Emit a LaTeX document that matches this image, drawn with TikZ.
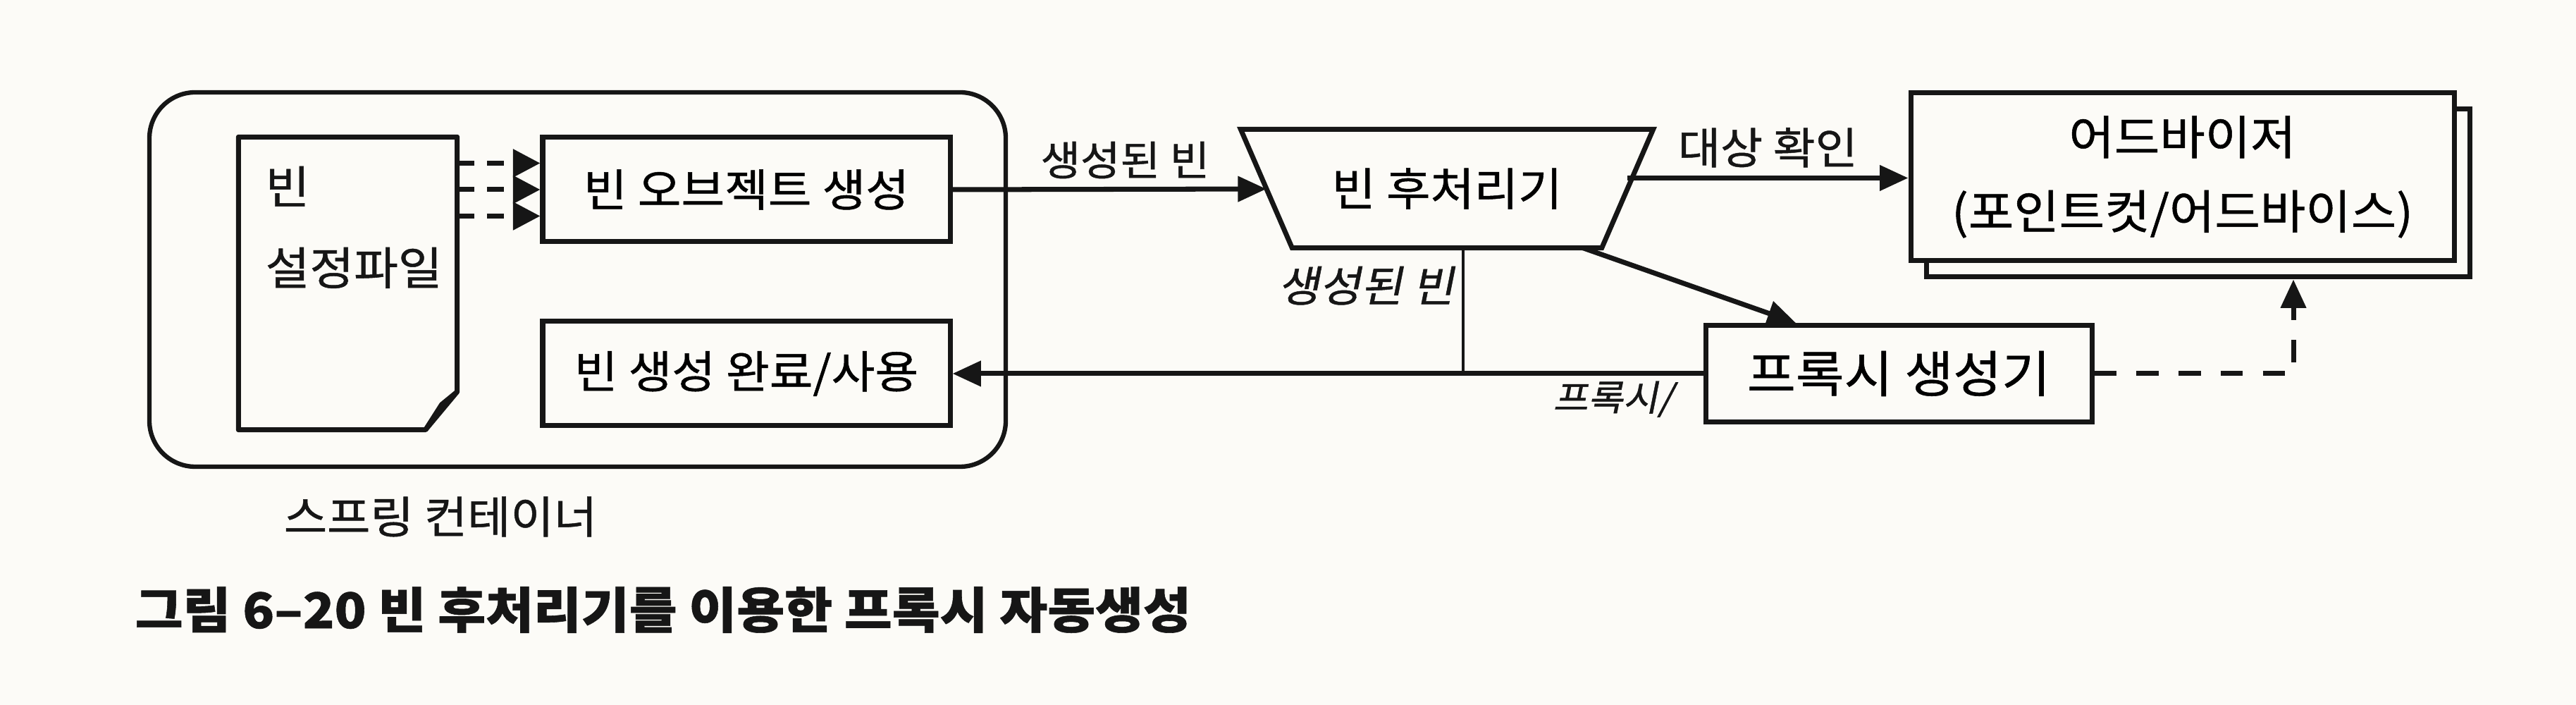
\documentclass[tikz,border=0pt]{standalone}
\usepackage{fontspec}
\setmainfont{Noto Sans CJK KR}[FakeStretch=1.06, FakeBold=0.8]
\newfontfamily\krslant{Noto Sans CJK KR}[FakeStretch=1.06, FakeBold=0.8, FakeSlant=0.2]
\usepackage{tikz}
\usetikzlibrary{shapes,arrows.meta,positioning,shadows}
\definecolor{paper}{RGB}{252,251,247}
\definecolor{ink}{RGB}{22,22,22}

\begin{document}
\begin{tikzpicture}
    %styles
    \tikzstyle{container}=[rectangle, draw=ink, line width=1.8pt, rounded corners=0.65cm, minimum width=12.15cm, minimum height=5.31cm]
    \tikzstyle{docfile}=[rectangle, minimum width=3.09cm, minimum height=4.14cm]
    \tikzstyle{docline}=[draw=ink, line width=2pt, line join=round]
    \tikzstyle{beanbox}=[rectangle, draw=ink, line width=2pt, minimum width=5.78cm, minimum height=1.48cm, font=\fontsize{18}{21}\selectfont]
    \tikzstyle{postproc}=[rectangle, minimum width=5.11cm, minimum height=1.67cm, font=\fontsize{18.2}{21}\selectfont]
    \tikzstyle{ppline}=[draw=ink, line width=2pt]
    \tikzstyle{advisor}=[rectangle, draw=ink, fill=paper, line width=2pt, minimum width=7.71cm, minimum height=2.38cm, align=center, font=\fontsize{18.8}{30}\selectfont, copy shadow={shadow xshift=0.22cm, shadow yshift=-0.23cm, draw=ink, fill=paper, line width=2pt}]
    \tikzstyle{proxybox}=[rectangle, draw=ink, line width=2pt, minimum width=5.48cm, minimum height=1.37cm, font=\fontsize{20.1}{24}\selectfont]
    \tikzstyle{lbl}=[font=\fontsize{16.5}{19}\selectfont, text=ink]
    \tikzstyle{slbl}=[font=\krslant\fontsize{17.2}{20}\selectfont, text=ink]
    \tikzstyle{commu}=[-{Triangle[length=11.5pt,width=10pt]}, draw=ink, line width=2pt]
    \tikzstyle{plain}=[draw=ink, line width=1.2pt]
    \tikzstyle{cfgcommu}=[-{Triangle[length=11pt,width=11pt]}, draw=ink, line width=2pt, dash pattern=on 7pt off 5pt]
    \tikzstyle{dashcommu}=[-{Triangle[length=11.5pt,width=10pt]}, draw=ink, line width=2pt, dash pattern=on 9pt off 8pt]

    \fill[paper] (0,0) rectangle (36.55,10);
    \useasboundingbox (0,0) rectangle (36.55,10);

    %nodes
    \node[container] (spring) at (8.195,6.035) {};
    \node[font=\fontsize{17.9}{21}\selectfont, text=ink] (springlbl) at (6.25,2.67) {스프링 컨테이너};

    \node[docfile] (conf) at (4.935,5.98) {};
    \node[anchor=base west, inner sep=0pt, font=\fontsize{18.3}{21}\selectfont, text=ink] (conft1) at (3.76,7.11) {빈};
    \node[anchor=base west, inner sep=0pt, font=\fontsize{18.3}{21}\selectfont, text=ink] (conft2) at (3.76,5.96) {설정파일};

    \node[beanbox] (create) at (10.59,7.31) {빈 오브젝트 생성};
    \node[beanbox] (ready) at (10.59,4.70) {빈 생성 완료/사용};

    \node[postproc] (pp) at (20.53,7.325) {빈 후처리기};
    \node[advisor] (adv) at (30.965,7.49) {어드바이저\\(포인트컷/어드바이스)};
    \node[proxybox] (proxy) at (26.94,4.70) {프록시 생성기};

    \node[anchor=west, inner sep=0pt, font=\bfseries\fontsize{19.8}{23}\selectfont, text=ink] (caption) at (1.91,1.35) {그림 6–20 빈 후처리기를 이용한 프록시 자동생성};

    %document outline
    \draw[docline] (conf.north west) -- (conf.north east) -- ([yshift=0.54cm]conf.south east)
        -- ([xshift=-0.45cm]conf.south east) -- (conf.south west) -- cycle;
    \draw[docline] ([yshift=0.54cm]conf.south east) -- ([xshift=-0.22cm,yshift=0.36cm]conf.south east)
        -- ([xshift=-0.45cm]conf.south east);

    %post processor outline
    \draw[ppline] ([xshift=-0.365cm]pp.north west) -- ([xshift=0.365cm]pp.north east)
        -- ([xshift=-0.365cm]pp.south east) -- ([xshift=0.365cm]pp.south west) -- cycle;

    %arrows
    \foreach \dy in {0.375,0,-0.375}
        \draw[cfgcommu] ([yshift=\dy cm]create.west -| conf.east) -- ([yshift=\dy cm]create.west);

    \draw[commu] (create.east) -- (pp) node[lbl, above, pos=0.55] {생성된 빈};
    \draw[commu] ([yshift=0.15cm]pp.east) -- ([yshift=0.15cm]pp.east -| adv.west) node[lbl, above, midway, font=\fontsize{17.5}{20}\selectfont] {대상 확인};
    \draw[commu] ([xshift=1.93cm]pp.south) -- ([xshift=-1.46cm]proxy.north);
    \draw[plain] ([xshift=0.23cm]pp.south) -- ([xshift=0.23cm]pp.south |- proxy.west) node[slbl, left, pos=0.3, inner sep=3pt] {생성된 빈};
    \draw[commu] (proxy.west) -- (ready.east) node[slbl, below, pos=0.12, inner sep=2pt, font=\krslant\fontsize{14.5}{17}\selectfont] {프록시/};
    \draw[dashcommu] (proxy.east) -| ([xshift=1.575cm,yshift=-0.23cm]adv.south);

\end{tikzpicture}
\end{document}
